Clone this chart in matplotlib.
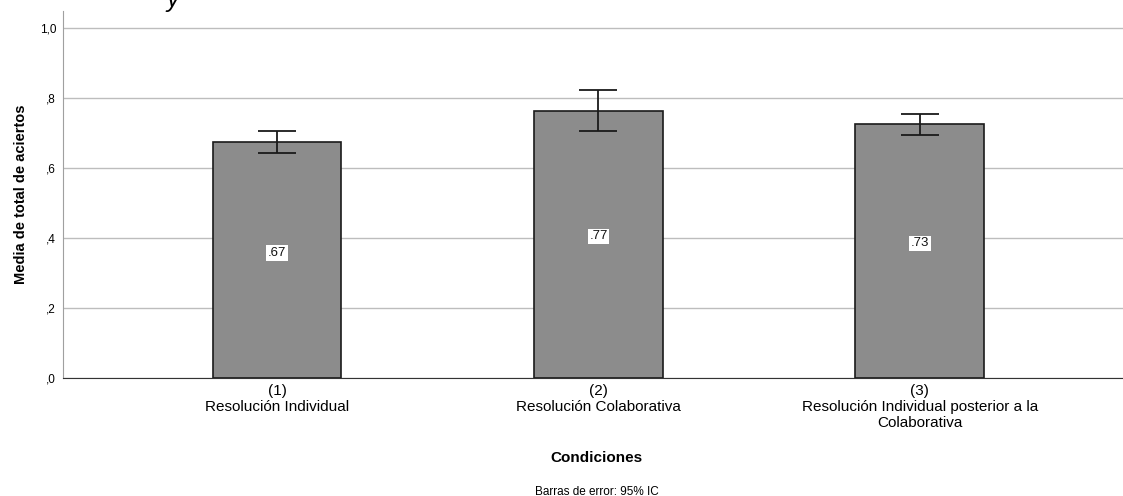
import matplotlib
matplotlib.use("Agg")
import matplotlib.pyplot as plt
import numpy as np

plt.rcParams["font.family"] = ["Liberation Sans", "DejaVu Sans"]

categories = ["(1)\nResolución Individual",
              "(2)\nResolución Colaborativa",
              "(3)\nResolución Individual posterior a la\nColaborativa"]
means = [0.673, 0.764, 0.726]
ci_low = [0.644, 0.706, 0.695]
ci_high = [0.705, 0.823, 0.754]
value_labels = [".67", ".77", ".73"]
yticks = [0.0, 0.2, 0.4, 0.6, 0.8, 1.0]
ytick_labels = [",0", ",2", ",4", ",6", ",8", "1,0"]

x = np.arange(len(categories))
err = [[m - l for m, l in zip(means, ci_low)],
       [h - m for h, m in zip(ci_high, means)]]

fig = plt.figure(figsize=(11.23, 4.96), dpi=100)
ax = fig.add_axes([0.0561, 0.238, 0.9439, 0.740])

ax.bar(x, means, width=0.40, color="#8c8c8c", edgecolor="#1a1a1a", linewidth=1.2, zorder=3)
ax.errorbar(x, means, yerr=err, fmt="none", ecolor="#1a1a1a", elinewidth=1.3,
            capsize=13.5, capthick=1.3, zorder=4)

for xi, m, lab in zip(x, means, value_labels):
    ax.text(xi, m * 0.53, lab, ha="center", va="center", fontsize=9.5, color="#111111",
            bbox=dict(facecolor="white", edgecolor="none", pad=1.2), zorder=5)

ax.set_xlim(-0.667, 2.633)
ax.set_ylim(0, 1.049)
ax.set_yticks(yticks)
ax.set_yticklabels(ytick_labels, fontsize=8.5)
ax.set_xticks(x)
ax.set_xticklabels(categories, fontsize=11, linespacing=1.22)
ax.tick_params(axis="x", length=0, pad=4)
ax.tick_params(axis="y", length=0, pad=5)
ax.yaxis.grid(True, color="#bdbdbd", linewidth=1.0, zorder=0)
ax.set_axisbelow(True)

for s in ["top", "right"]:
    ax.spines[s].set_visible(False)
ax.spines["left"].set_color("#a0a0a0")
ax.spines["bottom"].set_color("#333333")

ax.set_ylabel("Media de total de aciertos", fontsize=10.5, fontweight="bold", labelpad=8)
fig.text(0.5315, 0.076, "Condiciones", ha="center", va="center", fontsize=11, fontweight="bold")
fig.text(0.5315, 0.008, "Barras de error: 95% IC", ha="center", va="center", fontsize=8.5)
fig.text(0.148, 1.0, "y", ha="left", va="center", fontsize=18, style="italic")

fig.savefig("out.png", dpi=100)
